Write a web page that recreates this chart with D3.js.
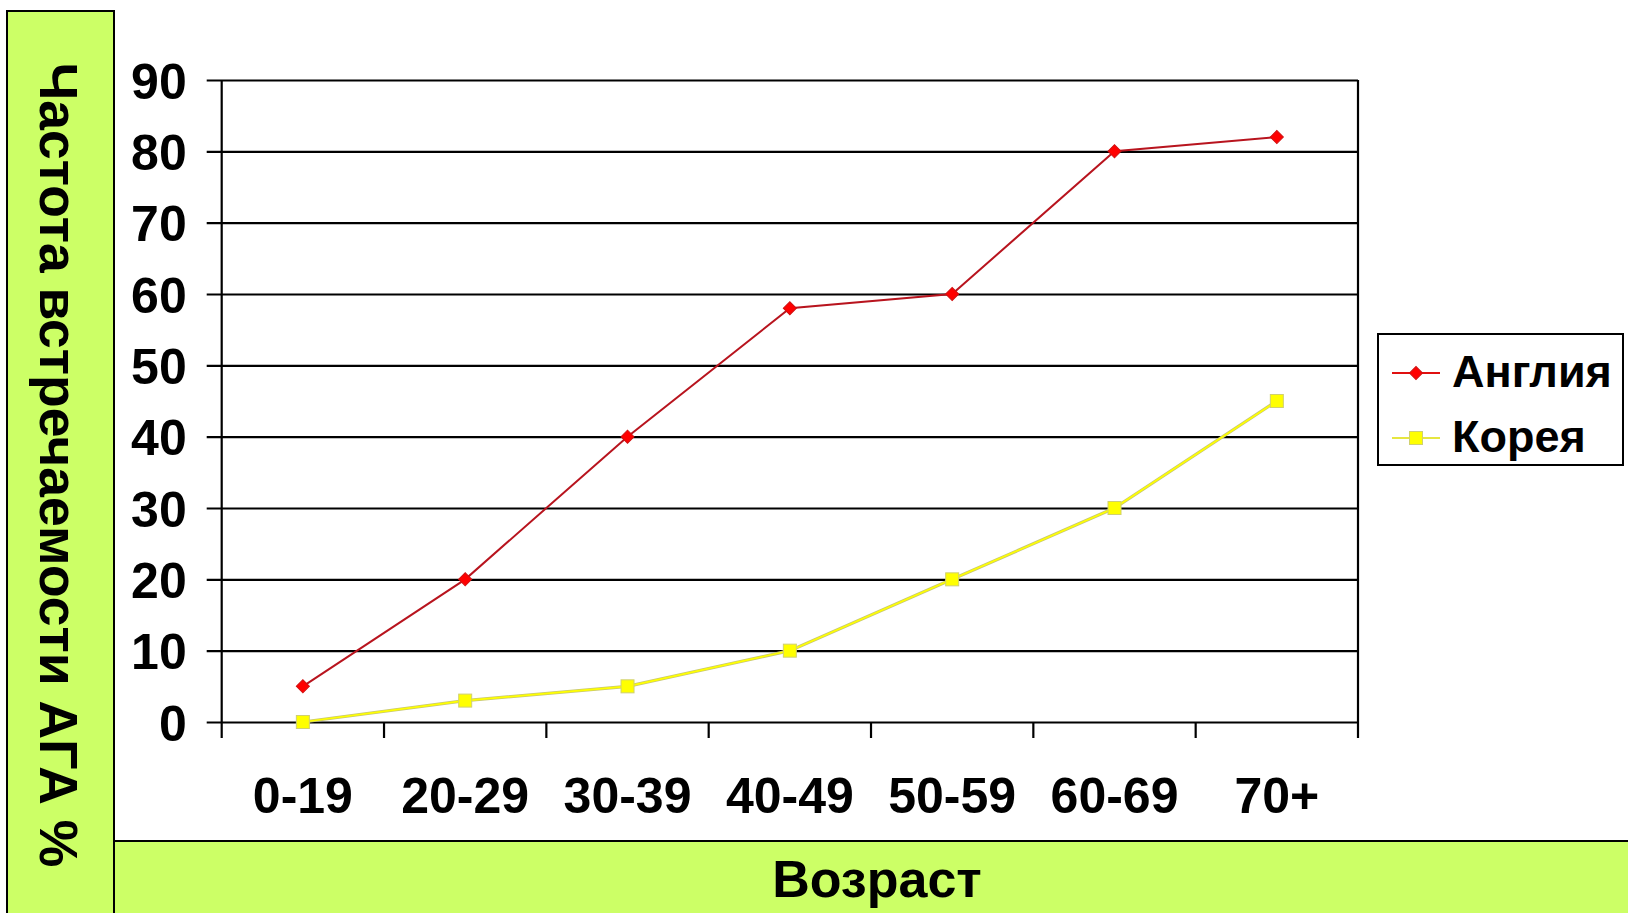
<!DOCTYPE html>
<html>
<head>
<meta charset="utf-8">
<script src="https://cdn.jsdelivr.net/npm/d3@7"></script>
<style>
  html, body { margin: 0; padding: 0; background: #ffffff; }
  svg { display: block; }
  text { font-family: "Liberation Sans", Arial, sans-serif; font-weight: bold; fill: #000; }
</style>
</head>
<body>
<svg id="chart" width="1628" height="913"></svg>
<script>
// Age groups and the share of AGA per group (%)
const categories = ["0-19", "20-29", "30-39", "40-49", "50-59", "60-69", "70+"];
const englandValues = [5, 20, 40, 58, 60, 80, 82];
const koreaValues = [0, 3, 5, 10, 20, 30, 45];
const yTicks = [0, 10, 20, 30, 40, 50, 60, 70, 80, 90];
const seriesNames = ["Англия", "Корея"];
const yTitle = "Частота встречаемости АГА %";
const xTitle = "Возраст";

const svg = d3.select("#chart");
const W = 1628, H = 913;
const green = "#CCFF66";

// plot frame
const plotLeft = 221.7, plotRight = 1358, plotTop = 80, plotBottom = 722;
const plotW = plotRight - plotLeft;

const x = d3.scaleBand().domain(categories).range([plotLeft, plotRight]).padding(0);
const y = d3.scaleLinear().domain([0, 90]).range([plotBottom, plotTop]);

// side panels
svg.append("rect").attr("x", 7).attr("y", 11).attr("width", 107).attr("height", H)
  .attr("fill", green).attr("stroke", "#000").attr("stroke-width", 2);
svg.append("rect").attr("x", 114).attr("y", 841).attr("width", W).attr("height", 100)
  .attr("fill", green).attr("stroke", "#000").attr("stroke-width", 2);

// y axis with gridlines
const yAxis = svg.append("g").attr("transform", `translate(${plotLeft},0)`)
  .call(d3.axisLeft(y).tickValues(yTicks).tickSize(15).tickPadding(20).tickFormat(d3.format("d")));
yAxis.select(".domain").remove();
yAxis.selectAll(".tick line").attr("x1", -15).attr("x2", plotW)
  .attr("stroke", "#000").attr("stroke-width", 2.2);
yAxis.selectAll(".tick text").style("font-size", "50px").attr("dy", "0.36em")
  .style("font-family", "'Liberation Sans', Arial, sans-serif").style("font-weight", "bold");

// vertical frame lines and category boundary ticks
const boundaries = categories.map(c => x(c)).concat([x.range()[1]]);
svg.append("g").selectAll("line").data(boundaries).join("line")
  .attr("x1", d => d).attr("x2", d => d)
  .attr("y1", (d, i) => (i === 0 || i === boundaries.length - 1) ? plotTop : plotBottom)
  .attr("y2", plotBottom + 16)
  .attr("stroke", "#000").attr("stroke-width", 2.2);

// category labels
const xAxis = svg.append("g").attr("transform", `translate(0,${plotBottom})`)
  .call(d3.axisBottom(x).tickSize(0).tickPadding(55));
xAxis.select(".domain").remove();
xAxis.selectAll(".tick text").style("font-size", "50px")
  .style("font-family", "'Liberation Sans', Arial, sans-serif").style("font-weight", "bold");

const line = d3.line()
  .x((d, i) => x(categories[i]) + x.bandwidth() / 2)
  .y(d => y(d));

// Korea series: yellow line with a soft olive edge
svg.append("path").datum(koreaValues).attr("d", line)
  .attr("fill", "none").attr("stroke", "#C8C870").attr("stroke-width", 3.2);
svg.append("path").datum(koreaValues).attr("d", line)
  .attr("fill", "none").attr("stroke", "#FFFF00").attr("stroke-width", 1.6);
svg.append("g").selectAll("rect").data(koreaValues).join("rect")
  .attr("x", (d, i) => x(categories[i]) + x.bandwidth() / 2 - 6.5)
  .attr("y", d => y(d) - 6.5)
  .attr("width", 13).attr("height", 13)
  .attr("fill", "#FFFF00").attr("stroke", "#D0D070").attr("stroke-width", 1);

// England series: dark red line with red diamonds
svg.append("path").datum(englandValues).attr("d", line)
  .attr("fill", "none").attr("stroke", "#B8141E").attr("stroke-width", 2);
svg.append("g").selectAll("path").data(englandValues).join("path")
  .attr("transform", (d, i) => `translate(${x(categories[i]) + x.bandwidth() / 2},${y(d)}) rotate(45)`)
  .attr("d", d3.symbol().type(d3.symbolSquare).size(85))
  .attr("fill", "#FF0000").attr("stroke", "#D01010").attr("stroke-width", 1);

// legend
const lg = svg.append("g");
lg.append("rect").attr("x", 1378).attr("y", 334).attr("width", 245).attr("height", 131)
  .attr("fill", "#fff").attr("stroke", "#000").attr("stroke-width", 2);
const legendRows = [
  { name: seriesNames[0], y: 373, type: "en" },
  { name: seriesNames[1], y: 438, type: "ko" }
];
legendRows.forEach(r => {
  if (r.type === "en") {
    lg.append("line").attr("x1", 1392).attr("x2", 1440).attr("y1", r.y).attr("y2", r.y)
      .attr("stroke", "#E01010").attr("stroke-width", 2);
    lg.append("path").attr("transform", `translate(1416,${r.y}) rotate(45)`)
      .attr("d", d3.symbol().type(d3.symbolSquare).size(85))
      .attr("fill", "#FF0000").attr("stroke", "#D01010").attr("stroke-width", 1);
  } else {
    lg.append("line").attr("x1", 1392).attr("x2", 1440).attr("y1", r.y).attr("y2", r.y)
      .attr("stroke", "#E6E640").attr("stroke-width", 2);
    lg.append("rect").attr("x", 1409.5).attr("y", r.y - 6.5).attr("width", 13).attr("height", 13)
      .attr("fill", "#FFFF00").attr("stroke", "#D0D070").attr("stroke-width", 1);
  }
  lg.append("text").attr("x", 1452).attr("y", r.y + 14).style("font-size", "45px").text(r.name);
});

// axis titles
svg.append("text").attr("transform", "translate(40,465) rotate(90)")
  .attr("text-anchor", "middle").style("font-size", "53.5px").text(yTitle);
svg.append("text").attr("x", 877).attr("y", 897)
  .attr("text-anchor", "middle").style("font-size", "52px").text(xTitle);
</script>
</body>
</html>
